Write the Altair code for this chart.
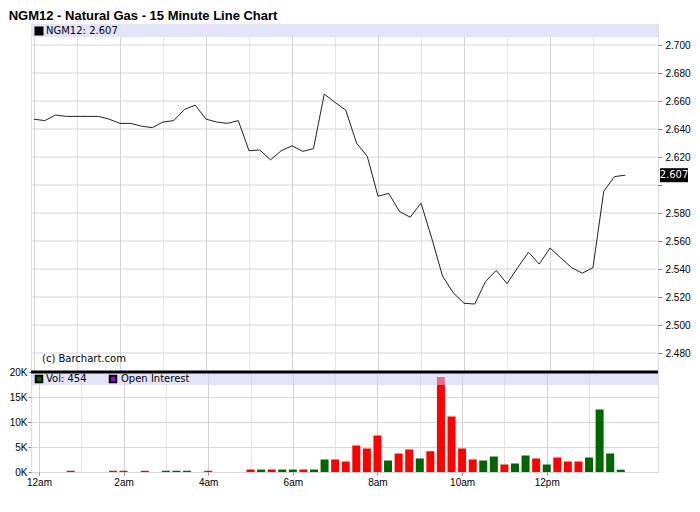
import altair as alt
import pandas as pd

# ---------------- data ----------------
# 15-minute slots from 12:00am (slot 0) to 1:45pm (slot 55)
prices = [2.647, 2.646, 2.650, 2.649, 2.649, 2.649, 2.649, 2.647, 2.644, 2.644,
          2.642, 2.641, 2.645, 2.646, 2.654, 2.657, 2.647, 2.645, 2.644, 2.646,
          2.6245, 2.625, 2.618, 2.6245, 2.628, 2.624, 2.626, 2.665, 2.659, 2.6535,
          2.630, 2.6205, 2.592, 2.594, 2.581, 2.577, 2.587, 2.562, 2.535, 2.523,
          2.5155, 2.515, 2.531, 2.539, 2.5295, 2.541, 2.552, 2.5435, 2.555, 2.548,
          2.541, 2.537, 2.541, 2.5955, 2.606, 2.607]

volumes = [0, 0, 0, 250, 0, 0, 0, 250, 250, 0,
           250, 0, 250, 250, 250, 0, 250, 0, 0, 0,
           500, 500, 500, 500, 500, 500, 500, 2500, 2500, 2100,
           5300, 4700, 7300, 2300, 3700, 4500, 2700, 4150, 19000, 11100,
           4700, 2500, 2300, 3100, 1500, 1700, 3300, 2700, 1500, 2900,
           2100, 2100, 2900, 12500, 3700, 454]

directions = ["up", "up", "up", "down", "up", "up", "up", "down", "down", "up",
              "down", "up", "up", "up", "up", "up", "down", "up", "up", "up",
              "down", "up", "down", "up", "up", "down", "up", "up", "down", "down",
              "down", "down", "down", "up", "down", "down", "up", "down", "down", "down",
              "down", "down", "up", "up", "down", "up", "up", "down", "up", "down",
              "down", "down", "up", "up", "up", "up"]

slots = list(range(len(prices)))
hour_labels = ["12am", "", "2am", "", "4am", "", "6am", "", "8am", "", "10am", "", "12pm", ""]
grid_slots = [4 * i for i in range(len(hour_labels))]
price_ticks = [2.48, 2.50, 2.52, 2.54, 2.56, 2.58, 2.60, 2.62, 2.64, 2.66, 2.68, 2.70]
vol_ticks = [0, 5000, 10000, 15000, 20000]

symbol = "NGM12"
title_text = "NGM12 - Natural Gas - 15 Minute Line Chart"

# ---------------- layout ----------------
W = 627
H_PRICE = 347
H_VOL = 100
FONT = "DejaVu Sans"
SLOT_PX = 10.75          # pixels per 15-minute slot
PX_PER_TICK = 28         # pixels per 0.02 of price

x0 = -3 / SLOT_PX
x_scale = alt.Scale(domain=[x0, x0 + W / SLOT_PX], nice=False, zero=False)
p_top = 2.70 + 21 * 0.02 / PX_PER_TICK
p_bottom = p_top - H_PRICE * 0.02 / PX_PER_TICK
y_price_scale = alt.Scale(domain=[p_bottom, p_top], nice=False, zero=False)

price_df = pd.DataFrame({"slot": slots, "price": prices})
vol_df = pd.DataFrame({"slot": slots, "vol": volumes, "dir": directions})
last_df = pd.DataFrame({"price": [prices[-1]], "label": [f"{prices[-1]:.3f}"]})
tick_df = pd.DataFrame({"price": price_ticks})
one = pd.DataFrame({"a": [0]})

grid_color = {"condition": {"test": "datum.value % 8 === 0", "value": "#d2d2d2"}, "value": "#e4e4e4"}

x_price = alt.X("slot:Q", scale=x_scale,
                axis=alt.Axis(values=grid_slots, labels=False, ticks=False, domain=False,
                              grid=True, gridColor=grid_color, title=None))

last = prices[-1]
price_axis = alt.Axis(orient="right", values=price_ticks, format=".3f",
                      labelExpr=f"abs(datum.value - {last}) < 0.01 ? '' : datum.label",
                      labelOverlap=False, tickSize=4, labelPadding=3, domain=False,
                      grid=False, title=None)
y_price = alt.Y("price:Q", scale=y_price_scale, axis=price_axis)

# horizontal price grid lines, drawn as rules through the price scale
hgrid = alt.Chart(tick_df).mark_rule(color="#d6d6d6", strokeWidth=1).encode(
    x=alt.value(0), x2=alt.value(W), y=y_price)

band_p = alt.Chart(one).mark_rect(color="#E4E4F9").encode(
    x=alt.value(0), x2=alt.value(W), y=alt.value(0), y2=alt.value(13))

line = alt.Chart(price_df).mark_line(color="#222222", strokeWidth=1).encode(x=x_price, y=y_price)

last_box = alt.Chart(last_df).mark_tick(orient="horizontal", size=28, thickness=14,
                                        color="black", opacity=1).encode(
    x=alt.value(W + 16), y=y_price)
last_text = alt.Chart(last_df).mark_text(color="white", font=FONT, fontSize=10,
                                         align="center", baseline="middle").encode(
    x=alt.value(W + 16), y=y_price, text="label:N")

leg_p_sq = alt.Chart(one).mark_square(size=49, fill="black", stroke="black",
                                      filled=True, opacity=1).encode(
    x=alt.value(8), y=alt.value(7))
leg_p_txt = alt.Chart(pd.DataFrame({"t": [f"{symbol}: {last:.3f}"]})).mark_text(
    font=FONT, fontSize=10, align="left", baseline="middle", color="black").encode(
    x=alt.value(15), y=alt.value(7), text="t:N")

copyright_txt = alt.Chart(pd.DataFrame({"t": ["(c) Barchart.com"]})).mark_text(
    font=FONT, fontSize=10, align="left", baseline="alphabetic", color="black").encode(
    x=alt.value(11), y=alt.value(H_PRICE - 9), text="t:N")

price_chart = alt.layer(hgrid, line, band_p, last_box, last_text, leg_p_sq, leg_p_txt,
                        copyright_txt).properties(width=W, height=H_PRICE)

# ---------------- volume panel ----------------
label_arr = "[" + ",".join(f"'{h}'" for h in hour_labels) + "]"
x_vol = alt.X("slot:Q", scale=x_scale,
              axis=alt.Axis(values=grid_slots, labelExpr=f"{label_arr}[datum.value / 4]",
                            tickSize={"condition": {"test": "datum.value % 8 === 0", "value": 3},
                                      "value": 0},
                            labelPadding=2, domain=False, grid=True, gridColor=grid_color,
                            title=None, labelFlush=False, labelOverlap=False))
y_vol = alt.Y("vol:Q", scale=alt.Scale(domain=[0, 20000], nice=False),
              axis=alt.Axis(values=vol_ticks, labelExpr="(datum.value / 1000) + 'K'",
                            tickSize=3, labelPadding=1, domain=False, grid=True,
                            gridColor="#d8d8d8", title=None, labelOverlap=False))

bars = alt.Chart(vol_df).mark_bar(size=8).encode(
    x=x_vol, y=y_vol,
    color=alt.Color("dir:N", scale=alt.Scale(domain=["up", "down"],
                                             range=["#006600", "#ff0000"]), legend=None))

band_v = alt.Chart(one).mark_rect(color="#CECEF4", opacity=0.55).encode(
    x=alt.value(0), x2=alt.value(W), y=alt.value(0), y2=alt.value(13))
sep = alt.Chart(one).mark_rule(color="black", strokeWidth=3).encode(
    x=alt.value(0), x2=alt.value(W), y=alt.value(0))

leg_v_sq1 = alt.Chart(one).mark_square(size=42, fill="#006600", stroke="black",
                                       filled=True, opacity=1).encode(
    x=alt.value(8), y=alt.value(7))
leg_v_txt1 = alt.Chart(pd.DataFrame({"t": [f"Vol: {volumes[-1]}"]})).mark_text(
    font=FONT, fontSize=10, align="left", baseline="middle", color="black").encode(
    x=alt.value(15), y=alt.value(7), text="t:N")
leg_v_sq2 = alt.Chart(one).mark_square(size=42, fill="#9900FF", stroke="black",
                                       filled=True, opacity=1).encode(
    x=alt.value(82), y=alt.value(7))
leg_v_txt2 = alt.Chart(pd.DataFrame({"t": ["Open Interest"]})).mark_text(
    font=FONT, fontSize=10, align="left", baseline="middle", color="black").encode(
    x=alt.value(90), y=alt.value(7), text="t:N")

vol_chart = alt.layer(bars, band_v, sep, leg_v_sq1, leg_v_txt1, leg_v_sq2,
                      leg_v_txt2).properties(width=W, height=H_VOL)

chart = alt.vconcat(price_chart, vol_chart, spacing=1, bounds="flush").properties(
    title=alt.TitleParams(text=title_text, anchor="start", font="Liberation Sans",
                          fontSize=13, fontWeight="bold", color="black", offset=0,
                          frame="bounds"),
    padding={"left": 0, "top": 2, "right": 0, "bottom": 0},
).configure_view(stroke="black", strokeWidth=1).configure_axis(
    labelFont=FONT, labelFontSize=10, labelColor="black", tickColor="black"
).configure(background="white")

chart.save("out.html", embed_options={"renderer": "svg", "actions": False})
